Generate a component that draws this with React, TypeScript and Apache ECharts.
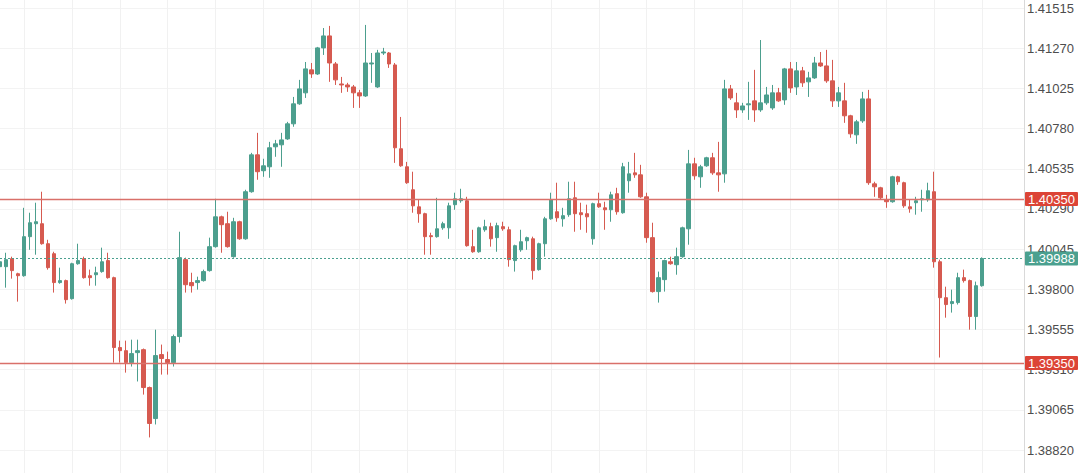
import React, { useEffect, useRef } from "react";
import * as echarts from "echarts";

const opens = [
  1.39938, 1.39938, 1.39987, 1.39895, 1.39883, 1.40121, 1.40200, 1.40200, 1.40078, 1.40017,
  1.39841, 1.39853, 1.39743, 1.39956, 1.39987, 1.39883, 1.39889, 1.39908, 1.39975, 1.39871,
  1.39445, 1.39426, 1.39353, 1.39414, 1.39432, 1.39201, 1.39012, 1.39402, 1.39372, 1.39353,
  1.39512, 1.39981, 1.39841, 1.39841, 1.39853, 1.39914, 1.40060, 1.40242, 1.40200, 1.39999,
  1.40212, 1.40108, 1.40395, 1.40620, 1.40523, 1.40547, 1.40669, 1.40681, 1.40717, 1.40809,
  1.40931, 1.40998, 1.41138, 1.41113, 1.41272, 1.41345, 1.41174, 1.41052, 1.41046, 1.41034,
  1.40998, 1.40979, 1.41174, 1.41034, 1.41241, 1.41241, 1.41168, 1.40657, 1.40547, 1.40407,
  1.40303, 1.40261, 1.40127, 1.40121, 1.40175, 1.40175, 1.40316, 1.40340, 1.40340, 1.40060,
  1.40029, 1.40163, 1.40182, 1.40115, 1.40182, 1.40163, 1.39975, 1.40041, 1.40096, 1.40108,
  1.39920, 1.40078, 1.40230, 1.40273, 1.40230, 1.40255, 1.40358, 1.40267, 1.40261, 1.40108,
  1.40322, 1.40297, 1.40285, 1.40383, 1.40267, 1.40462, 1.40510, 1.40498, 1.40364, 1.40115,
  1.39786, 1.39859, 1.39968, 1.39950, 1.39999, 1.40169, 1.40565, 1.40486, 1.40553, 1.40602,
  1.40510, 1.40504, 1.41022, 1.40937, 1.40894, 1.40925, 1.40949, 1.40894, 1.40937, 1.40906,
  1.40998, 1.40955, 1.41144, 1.41034, 1.41132, 1.41065, 1.41089, 1.41180, 1.41162, 1.41071,
  1.40949, 1.40949, 1.40858, 1.40742, 1.40827, 1.40961, 1.40443, 1.40419, 1.40346, 1.40334,
  1.40486, 1.40450, 1.40303, 1.40328, 1.40346, 1.40346, 1.40395, 1.39968, 1.39749, 1.39713,
  1.39719, 1.39871, 1.39853, 1.39634, 1.39822,
];

const closes = [
  1.39968, 1.39981, 1.39914, 1.39883, 1.40121, 1.40206, 1.40212, 1.40078, 1.39932, 1.39841,
  1.39853, 1.39737, 1.39956, 1.39975, 1.39871, 1.39871, 1.39901, 1.39968, 1.39871, 1.39445,
  1.39426, 1.39353, 1.39408, 1.39426, 1.39201, 1.38982, 1.39396, 1.39378, 1.39353, 1.39512,
  1.39993, 1.39828, 1.39822, 1.39853, 1.39908, 1.40060, 1.40242, 1.40194, 1.40060, 1.40212,
  1.40108, 1.40395, 1.40620, 1.40517, 1.40553, 1.40663, 1.40687, 1.40711, 1.40809, 1.40931,
  1.41022, 1.41144, 1.41113, 1.41272, 1.41345, 1.41180, 1.41077, 1.41046, 1.41034, 1.40998,
  1.40979, 1.41180, 1.41180, 1.41241, 1.41247, 1.41174, 1.40663, 1.40553, 1.40450, 1.40309,
  1.40261, 1.40121, 1.40121, 1.40169, 1.40200, 1.40309, 1.40352, 1.40352, 1.40066, 1.40029,
  1.40175, 1.40182, 1.40108, 1.40188, 1.40169, 1.39981, 1.40066, 1.40090, 1.40115, 1.39914,
  1.40078, 1.40230, 1.40346, 1.40236, 1.40249, 1.40352, 1.40261, 1.40255, 1.40242, 1.40322,
  1.40303, 1.40285, 1.40376, 1.40273, 1.40547, 1.40504, 1.40498, 1.40364, 1.40115, 1.39786,
  1.39871, 1.39975, 1.39956, 1.39999, 1.40175, 1.40565, 1.40492, 1.40547, 1.40602, 1.40510,
  1.40498, 1.41022, 1.40967, 1.40894, 1.40918, 1.40931, 1.40894, 1.40937, 1.40985, 1.40998,
  1.40949, 1.41144, 1.41028, 1.41132, 1.41059, 1.41089, 1.41180, 1.41162, 1.41071, 1.40949,
  1.40998, 1.40858, 1.40748, 1.40821, 1.40961, 1.40450, 1.40425, 1.40358, 1.40334, 1.40486,
  1.40456, 1.40309, 1.40291, 1.40340, 1.40352, 1.40401, 1.39968, 1.39749, 1.39707, 1.39725,
  1.39871, 1.39853, 1.39634, 1.39822, 1.39988,
];

const lows = [
  1.39920, 1.39810, 1.39865, 1.39725, 1.39877, 1.40041, 1.40011, 1.40072, 1.39920, 1.39780,
  1.39834, 1.39713, 1.39737, 1.39950, 1.39865, 1.39822, 1.39822, 1.39901, 1.39865, 1.39353,
  1.39353, 1.39292, 1.39329, 1.39238, 1.39158, 1.38897, 1.38976, 1.39280, 1.39280, 1.39329,
  1.39475, 1.39780, 1.39780, 1.39798, 1.39847, 1.39908, 1.40054, 1.40023, 1.40054, 1.39993,
  1.40102, 1.40102, 1.40389, 1.40468, 1.40486, 1.40480, 1.40608, 1.40547, 1.40711, 1.40791,
  1.40925, 1.40967, 1.41089, 1.41107, 1.41229, 1.41065, 1.41046, 1.40998, 1.41004, 1.40906,
  1.40906, 1.40973, 1.41059, 1.41028, 1.41229, 1.41150, 1.40571, 1.40547, 1.40443, 1.40267,
  1.40206, 1.40011, 1.40011, 1.40115, 1.40163, 1.40108, 1.40285, 1.40328, 1.40060, 1.40023,
  1.40023, 1.40151, 1.40060, 1.40029, 1.40157, 1.39938, 1.39908, 1.40029, 1.40041, 1.39859,
  1.39914, 1.39999, 1.40224, 1.40212, 1.40182, 1.40242, 1.40151, 1.40163, 1.40145, 1.40072,
  1.40297, 1.40163, 1.40212, 1.40255, 1.40261, 1.40389, 1.40480, 1.40358, 1.40084, 1.39780,
  1.39719, 1.39786, 1.39950, 1.39889, 1.39993, 1.40072, 1.40468, 1.40419, 1.40547, 1.40498,
  1.40395, 1.40450, 1.40955, 1.40845, 1.40876, 1.40833, 1.40821, 1.40882, 1.40925, 1.40894,
  1.40943, 1.40925, 1.40998, 1.40985, 1.41034, 1.40973, 1.41083, 1.41156, 1.41059, 1.40912,
  1.40912, 1.40815, 1.40724, 1.40687, 1.40815, 1.40437, 1.40364, 1.40346, 1.40297, 1.40328,
  1.40437, 1.40297, 1.40267, 1.40255, 1.40273, 1.40334, 1.39932, 1.39384, 1.39627, 1.39658,
  1.39707, 1.39841, 1.39554, 1.39554, 1.39816,
];

const highs = [
  1.39993, 1.40023, 1.39999, 1.39901, 1.40297, 1.40267, 1.40328, 1.40395, 1.40102, 1.40029,
  1.39932, 1.39859, 1.39962, 1.40078, 1.39999, 1.39920, 1.39938, 1.40054, 1.40023, 1.39877,
  1.39487, 1.39487, 1.39493, 1.39493, 1.39439, 1.39207, 1.39554, 1.39463, 1.39420, 1.39524,
  1.40151, 1.39993, 1.39901, 1.39877, 1.39920, 1.40115, 1.40352, 1.40249, 1.40273, 1.40236,
  1.40218, 1.40407, 1.40632, 1.40754, 1.40596, 1.40699, 1.40711, 1.40754, 1.40821, 1.40973,
  1.41077, 1.41186, 1.41180, 1.41278, 1.41393, 1.41406, 1.41186, 1.41095, 1.41059, 1.41046,
  1.41016, 1.41412, 1.41241, 1.41260, 1.41272, 1.41247, 1.41180, 1.40851, 1.40577, 1.40517,
  1.40346, 1.40267, 1.40145, 1.40358, 1.40212, 1.40328, 1.40389, 1.40413, 1.40364, 1.40163,
  1.40182, 1.40224, 1.40206, 1.40206, 1.40212, 1.40182, 1.40072, 1.40163, 1.40121, 1.40121,
  1.40084, 1.40242, 1.40389, 1.40450, 1.40297, 1.40456, 1.40456, 1.40328, 1.40316, 1.40328,
  1.40389, 1.40334, 1.40395, 1.40419, 1.40571, 1.40577, 1.40632, 1.40559, 1.40389, 1.40206,
  1.39908, 1.39981, 1.39999, 1.40054, 1.40182, 1.40650, 1.40602, 1.40559, 1.40608, 1.40632,
  1.40699, 1.41077, 1.41046, 1.40998, 1.40937, 1.41065, 1.41138, 1.41320, 1.41034, 1.41046,
  1.41028, 1.41150, 1.41186, 1.41186, 1.41156, 1.41126, 1.41217, 1.41247, 1.41260, 1.41199,
  1.41034, 1.41059, 1.40864, 1.40833, 1.41004, 1.41016, 1.40456, 1.40425, 1.40376, 1.40492,
  1.40492, 1.40456, 1.40346, 1.40364, 1.40407, 1.40450, 1.40517, 1.39981, 1.39816, 1.39798,
  1.39901, 1.39920, 1.39859, 1.39847, 1.39995,
];

const categories = opens.map((_, i) => String(i + 1));

const tickLabels = [
  1.41515, 1.4127, 1.41025, 1.4078, 1.40535, 1.4029, 1.40045, 1.398, 1.39555, 1.3931, 1.39065, 1.3882,
];

const resistanceLevel = 1.4035;
const supportLevel = 1.3935;
const lastPrice = 1.39988;

const UP = "#4c9f8e";
const DOWN = "#d65a50";
const LINE_RED = "#d9706a";
const TAG_RED = "#dc4436";
const TAG_GREEN = "#4aa08f";

export default function App() {
  const ref = useRef<HTMLDivElement>(null);

  useEffect(() => {
    if (!ref.current) return;
    const chart = echarts.init(ref.current, undefined, { renderer: "svg" });
    const data = opens.map((o, i) => [o, closes[i], lows[i], highs[i]]);
    const font = "'Liberation Sans', Arial, Helvetica, sans-serif";
    const tagLabel = (bg: string) => ({
      show: true,
      position: "end",
      distance: 1,
      formatter: (p: any) => Number(p.value).toFixed(5),
      backgroundColor: bg,
      color: "#ffffff",
      fontSize: 13,
      fontFamily: font,
      padding: [1, 3, 0, 3],
      lineHeight: 13,
      borderRadius: 1,
    });
    chart.setOption({
      animation: false,
      backgroundColor: "#ffffff",
      grid: { left: 0, right: 56, top: 0, bottom: 0, containLabel: false, outerBoundsMode: "none" },
      xAxis: {
        type: "category",
        data: categories,
        boundaryGap: false,
        min: 0,
        max: 171,
        axisLine: { show: false },
        axisTick: { show: false },
        axisLabel: { show: false },
        splitLine: {
          show: true,
          interval: (i: number) => i % 8 === 4,
          lineStyle: { color: "#f1f1f1", width: 1 },
        },
      },
      yAxis: {
        type: "value",
        position: "right",
        scale: true,
        min: 1.3868,
        max: 1.41564,
        axisLine: { show: true, lineStyle: { color: "#d9d9d9", width: 1 } },
        axisTick: { show: false, customValues: tickLabels },
        axisLabel: {
          show: true,
          customValues: tickLabels,
          formatter: (v: number) => v.toFixed(5),
          color: "#4d4d4d",
          fontSize: 13,
          fontFamily: font,
          margin: 3,
        },
        splitLine: { show: true, lineStyle: { color: "#f3f3f3", width: 1 } },
      },
      series: [
        {
          type: "candlestick",
          data,
          barWidth: 4,
          itemStyle: {
            color: UP,
            color0: DOWN,
            borderColor: UP,
            borderColor0: DOWN,
            borderWidth: 1,
          },
          markLine: {
            silent: true,
            symbol: "none",
            precision: 5,
            animation: false,
            lineStyle: { color: LINE_RED, width: 1.3, type: "solid", opacity: 1 },
            data: [
              {
                yAxis: resistanceLevel,
                lineStyle: { color: LINE_RED, width: 1.3, type: "solid", opacity: 1 },
                label: tagLabel(TAG_RED),
              },
              {
                yAxis: supportLevel,
                lineStyle: { color: LINE_RED, width: 1.3, type: "solid", opacity: 1 },
                label: tagLabel(TAG_RED),
              },
              {
                yAxis: lastPrice,
                lineStyle: { color: TAG_GREEN, width: 1, type: [2, 2], opacity: 1 },
                label: tagLabel(TAG_GREEN),
              },
            ],
          },
        },
      ],
    });
    return () => chart.dispose();
  }, []);

  return (
    <div
      ref={ref}
      style={{ position: "fixed", left: 0, top: 0, width: 1080, height: 473, background: "#fff" }}
    />
  );
}
